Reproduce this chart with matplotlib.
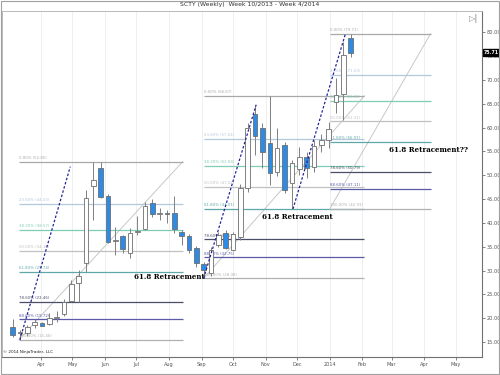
import pandas as pd
import matplotlib.pyplot as plt
import matplotlib.dates as mdates
from matplotlib.patches import Rectangle

# weekly SCTY bars, week 10/2013 - week 4/2014
weeks = pd.date_range("2013-03-05", periods=47, freq="7D")
opens = [18.2, 16.8, 16.9, 18.6, 19.0, 18.8, 20.0, 20.9, 23.6, 27.4, 31.6, 47.8,
         51.5, 45.7, 36.3, 37.3, 33.7, 38.1, 38.7, 44.2, 41.9, 42.0, 42.1, 38.1,
         37.3, 34.7, 31.4, 29.5, 35.4, 37.9, 34.3, 37.1, 47.4, 62.9, 60.0, 56.8,
         50.7, 56.4, 48.4, 51.3, 53.9, 51.8, 56.4, 57.4, 65.4, 67.0, 78.9]
highs = [19.8, 17.6, 18.6, 19.9, 19.2, 21.1, 21.5, 24.0, 28.0, 30.1, 46.9, 52.85,
         52.7, 46.0, 39.2, 37.5, 39.0, 41.5, 44.4, 45.0, 43.2, 42.8, 45.7, 38.6,
         37.7, 35.2, 31.8, 35.0, 38.1, 38.5, 38.1, 48.2, 61.0, 64.8, 61.0, 66.67,
         60.0, 57.0, 53.2, 56.0, 54.9, 57.4, 58.7, 61.2, 70.5, 78.0, 79.71]
lows = [16.0, 15.46, 16.3, 18.0, 18.3, 18.6, 19.1, 20.5, 23.4, 23.4, 29.7, 40.6,
        45.3, 35.8, 33.3, 33.7, 32.6, 37.5, 38.5, 41.3, 40.6, 40.0, 37.9, 35.4,
        33.7, 30.8, 28.38, 28.9, 35.0, 34.5, 34.1, 36.4, 46.5, 54.3, 51.6, 48.0,
        49.9, 46.3, 42.91, 50.1, 49.5, 50.7, 54.9, 55.8, 63.1, 61.6, 74.9]
closes = [16.5, 17.0, 18.1, 19.2, 18.4, 20.0, 20.3, 23.4, 27.2, 28.9, 45.25, 49.0,
          45.5, 36.0, 36.4, 34.5, 37.9, 38.4, 43.6, 41.9, 42.0, 41.9, 38.7, 37.3,
          34.3, 31.6, 30.1, 34.3, 37.5, 34.7, 37.7, 47.4, 60.0, 58.3, 54.9, 50.5,
          55.8, 46.9, 52.6, 53.9, 51.6, 56.2, 57.4, 59.7, 66.9, 75.3, 75.71]

# fibonacci retracements drawn on the chart
fib_start = ["2013-03-11", "2013-09-03", "2014-01-01"]
fib_end = ["2013-08-14", "2014-02-03", "2014-04-07"]
fib_low = [15.46, 28.38, 42.91]
fib_high = [52.85, 66.67, 79.71]
fib_levels = [0.0, 0.236, 0.382, 0.5, 0.618, 0.786, 0.886, 1.0]
fib_colors = ["#a8a8a8", "#b4c8dc", "#7fcdb4", "#c0c0c0", "#5fa8a8", "#4a4e68", "#5a5aa8", "#b0b0b0"]

# hand drawn trend lines
trend_start = ["2013-03-12", "2013-09-03", "2013-11-27"]
trend_end = ["2013-04-29", "2013-10-23", "2014-01-16"]
trend_low = [15.46, 28.38, 42.91]
trend_high = [51.8, 64.8, 79.71]

month_ticks = pd.date_range("2013-04-01", "2014-05-01", freq="MS")

x = mdates.date2num(weeks)

fig = plt.figure(figsize=(5, 3.75), dpi=100)
ax = fig.add_axes([0.004, 0.048, 0.96, 0.923])

# fibs
for s, e, lo, hi in zip(fib_start, fib_end, fib_low, fib_high):
    x0 = mdates.datestr2num(s)
    x1 = mdates.datestr2num(e)
    ax.plot([x0, x1], [lo, hi], color="#c8c8c8", lw=0.7, zorder=1)
    for p, col in zip(fib_levels, fib_colors):
        price = hi - p * (hi - lo)
        ax.hlines(price, x0, x1, color=col, lw=0.9, zorder=1)
        ax.text(x0, price + 0.35, f"{p * 100:.2f}% ({price:.2f})", fontsize=2.8,
                color=col, va="bottom", ha="left", zorder=1)

# candles
for xi, o, h, l, c in zip(x, opens, highs, lows, closes):
    ax.vlines(xi, l, h, color="#808080", lw=0.7, zorder=2)
    body = max(abs(c - o), 0.15)
    fill = "#2b8be6" if c < o else "white"
    ax.bar(xi, body, bottom=min(o, c), width=4.4, color=fill,
           edgecolor="#6e6e6e", lw=0.6, zorder=3)

# trend lines
for s, e, lo, hi in zip(trend_start, trend_end, trend_low, trend_high):
    ax.plot([mdates.datestr2num(s), mdates.datestr2num(e)], [lo, hi],
            color="#24249c", lw=0.9, ls=(0, (2, 1.5)), zorder=4)

# notes
note = dict(fontsize=5, fontweight="bold", family="DejaVu Serif", color="black", zorder=5)
ax.text(mdates.datestr2num("2013-08-01"), 28.6, "61.8 Retracement", ha="center", va="center", **note)
ax.text(mdates.datestr2num("2013-12-01"), 41.3, "61.8 Retracement", ha="center", va="center", **note)
ax.text(mdates.datestr2num("2014-04-05"), 55.3, "61.8 Retracement??", ha="center", va="center", **note)

ax.set_xlim(mdates.datestr2num("2013-02-23"), mdates.datestr2num("2014-05-26"))
ax.set_ylim(11.85, 84.5)

# axes styling
ax.set_axisbelow(True)
ax.yaxis.tick_right()
ax.set_yticks(range(15, 85, 5))
ax.set_yticklabels([f"{v:.2f}" for v in range(15, 85, 5)])
ax.set_yticks(range(15, 85, 15), minor=True)
ax.set_xticks(mdates.date2num(month_ticks))
ax.set_xticklabels(["2014" if d.month == 1 else d.strftime("%b") for d in month_ticks])
ax.grid(True, axis="x", color="#ececec", lw=0.6)
ax.grid(True, axis="y", which="minor", color="#ececec", lw=0.6)
ax.tick_params(axis="both", labelsize=3.6, colors="#555555", length=2, width=0.5, pad=1.5)
ax.tick_params(axis="y", which="minor", length=0)
for side in ["top", "left"]:
    ax.spines[side].set_color("#b0b0b0")
    ax.spines[side].set_linewidth(0.6)
for side in ["right", "bottom"]:
    ax.spines[side].set_color("#707070")
    ax.spines[side].set_linewidth(0.8)

# last price marker
ax.text(1.004, closes[-1], f"{closes[-1]:.2f}", transform=ax.get_yaxis_transform(),
        fontsize=3.4, color="white", fontweight="bold", va="center", ha="left",
        bbox=dict(boxstyle="square,pad=0.2", fc="black", ec="black"))
ax.text(0.982, 0.978, "▷|", transform=ax.transAxes, fontsize=6, color="#888888", ha="center", va="center")

fig.text(0.5, 0.987, "SCTY (Weekly)  Week 10/2013 - Week 4/2014", ha="center", va="center",
         fontsize=4.4, color="#333333")
fig.text(0.006, 0.056, "© 2014 NinjaTrader, LLC", fontsize=3, color="#222222", ha="left", va="bottom")
fig.patches.append(Rectangle((0.001, 0.003), 0.997, 0.994, transform=fig.transFigure,
                             fill=False, ec="#a0a0a0", lw=0.8))

plt.savefig("out.png", dpi=100)
